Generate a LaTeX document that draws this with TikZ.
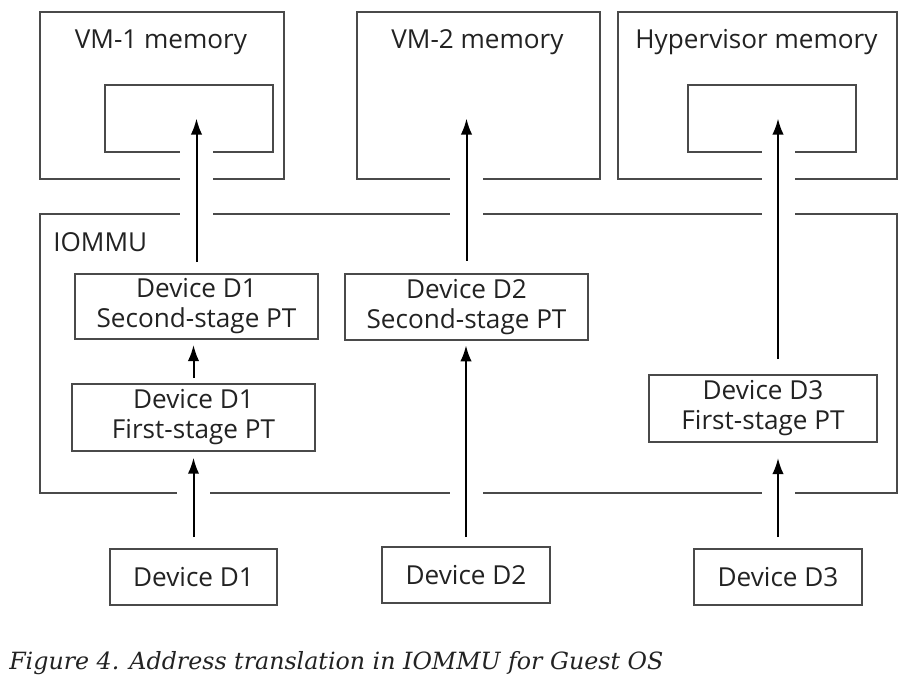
\documentclass[tikz,border=0pt]{standalone}
\usepackage{fontspec}
\setmainfont{Open Sans}
\newfontfamily\capfont{DejaVu Serif}
\usetikzlibrary{arrows.meta}
\definecolor{boxline}{HTML}{4a4a4a}
\definecolor{txtgray}{HTML}{222222}

\begin{document}
\begin{tikzpicture}[x=0.75pt,y=-0.75pt,
  box/.style={draw=boxline,line width=0.8pt,inner sep=0pt,outer sep=0pt,
    text=txtgray,font=\fontsize{19.6}{22.5}\selectfont,align=center},
  lbl/.style={inner sep=0pt,anchor=base,text=txtgray,font=\fontsize{19.6}{22.5}\selectfont},
  arr/.style={line width=1.5pt,-{Latex[length=12pt,width=8.5pt]},
    preaction={draw=white,line width=24.75pt,-}}]
  \useasboundingbox (0,0) rectangle (912,683);
  % memory regions
  \node[box,minimum width=183pt,minimum height=125.25pt] (vm1) at (162,95.5) {};
  \node[box,minimum width=182.25pt,minimum height=125.25pt] (vm2) at (478.5,95.5) {};
  \node[box,minimum width=209.25pt,minimum height=125.25pt] (hyp) at (757.5,95.5) {};
  \node[box,minimum width=126pt,minimum height=50.25pt] (vm1in) at (189,118.5) {};
  \node[box,minimum width=126pt,minimum height=50.25pt] (hypin) at (772,118.5) {};
  \node[lbl] (vm1lbl) at (161,48) {VM-1 memory};
  \node[lbl] (vm2lbl) at (477.5,48) {VM-2 memory};
  \node[lbl] (hyplbl) at (756.5,48) {Hypervisor memory};
  % iommu
  \node[box,minimum width=642.75pt,minimum height=209.25pt] (iommu) at (468.5,353.5) {};
  \node[lbl,anchor=base west] (iommulbl) at (53,251) {IOMMU};
  \node[box,minimum width=182.25pt,minimum height=48.75pt] (d1sec) at (196.5,306.5) {Device D1\\Second-stage PT};
  \node[box,minimum width=182.25pt,minimum height=49.5pt] (d2sec) at (466.5,307) {Device D2\\Second-stage PT};
  \node[box,minimum width=182.25pt,minimum height=50.25pt] (d1first) at (193.5,417.5) {Device D1\\First-stage PT};
  \node[box,minimum width=171pt,minimum height=50.25pt] (d3first) at (763,408.5) {Device D3\\First-stage PT};
  % devices
  \node[box,minimum width=125.25pt,minimum height=42pt] (d1dev) at (193.5,577) {Device D1};
  \node[box,minimum width=126pt,minimum height=42pt] (d2dev) at (466,575) {Device D2};
  \node[box,minimum width=126pt,minimum height=42pt] (d3dev) at (778,577) {Device D3};
  % translations
  \draw[arr] ([yshift=9pt]d1dev.north) -- ([yshift=-5pt]d1dev.north |- d1first.south);
  \draw[arr] ([yshift=4.5pt]d1first.north) -- ([yshift=-4.5pt]d1first.north |- d1sec.south);
  \draw[arr] ([yshift=9pt]d1sec.north) -- (d1sec.north |- vm1in.center);
  \draw[arr] ([yshift=7.5pt]d2dev.north) -- ([yshift=-4pt]d2dev.north |- d2sec.south);
  \draw[arr] ([yshift=10pt]d2sec.north) -- (d2sec.north |- vm1in.center);
  \draw[arr] ([yshift=9pt]d3dev.north) -- ([yshift=-12pt]d3dev.north |- d3first.south);
  \draw[arr] ([yshift=12pt]d3dev.north |- d3first.north) -- (d3dev.north |- hypin.center);
  % caption
  \node[anchor=base west,inner sep=0pt,text=txtgray,font=\capfont\itshape\fontsize{17.8}{22}\selectfont] (cap) at (9,669) {Figure 4. Address translation in IOMMU for Guest OS};
\end{tikzpicture}
\end{document}
